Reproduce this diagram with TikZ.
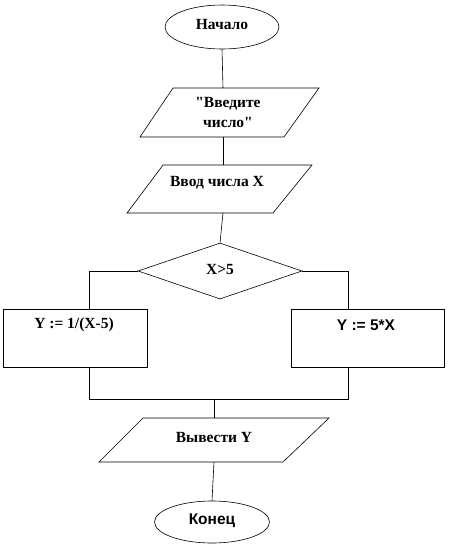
\documentclass[tikz,border=0pt]{standalone}
\usepackage{fontspec}
\setmainfont{Liberation Serif}
\newfontfamily\timesf{Liberation Serif}
\newfontfamily\arialf{Liberation Sans}
\usetikzlibrary{shapes.geometric}
\begin{document}
\begin{tikzpicture}[x=1pt,y=-1pt,
  shp/.style={draw=black,line width=0.6pt,fill=white},
  ln/.style={draw=black,line width=0.6pt},
  lbl/.style={inner sep=0pt,font=\timesf\fontsize{15.5}{20}\selectfont\bfseries,align=center},
  lbls/.style={inner sep=0pt,font=\arialf\fontsize{15.5}{18}\selectfont\bfseries,align=center}]
\useasboundingbox (0,0) rectangle (448,547);
% start
\node[shp,ellipse,minimum width=114pt,minimum height=44pt,inner sep=0pt] (start) at (222,27) {};
\node[lbl] (tstart) at (222,24) {Начало};
% input prompt parallelogram
\coordinate (p1t) at (223,88);
\coordinate (p1b) at (223,137);
\draw[shp] (173,88) -- (319,88) -- (284,137) -- (140,137) -- cycle;
\node[lbl] (tp1) at (228,112) {"Введите\\число"};
% input X
\coordinate (p2t) at (223,165);
\coordinate (p2b) at (223,213);
\draw[shp] (163,165) -- (312,165) -- (273,213) -- (127,213) -- cycle;
\node[lbl] (tp2) at (217,183) {Ввод числа X};
% decision
\node[shp,diamond,minimum width=164pt,minimum height=56pt,inner sep=0pt,aspect=2.9] (dec) at (220,271) {};
\node[lbl] (tdec) at (220,269) {X>5};
% boxes
\node[shp,rectangle,minimum width=144pt,minimum height=58pt,inner sep=0pt] (bl) at (75,338) {};
\node[lbl] (tbl) at (74,325) {Y := 1/(X-5)};
\node[shp,rectangle,minimum width=153pt,minimum height=58pt,inner sep=0pt] (br) at (367.5,338) {};
\node[lbls] (tbr) at (366,325) {Y := 5*X};
% merge
\coordinate (ml) at (89,399);
\coordinate (mr) at (348,399);
\coordinate (mm) at (214,399);
% output
\coordinate (p3t) at (214,418);
\coordinate (p3b) at (214,462);
\draw[shp] (143,418) -- (329,418) -- (283,462) -- (99,462) -- cycle;
\node[lbl] (tp3) at (214,437) {Вывести Y};
% end
\node[shp,ellipse,minimum width=115pt,minimum height=42pt,inner sep=0pt] (stop) at (212,522) {};
\node[lbls] (tstop) at (212,521) {Конец};
% connectors
\draw[ln] (start.south) -- (p1t);
\draw[ln] (p1b) -- (p2t);
\draw[ln] (p2b) -- (dec.north);
\draw[ln] (dec.west) -| (bl.north -| ml);
\draw[ln] (dec.east) -| (br.north -| mr);
\draw[ln] (bl.south -| ml) -- (ml) -- (mr) -- (br.south -| mr);
\draw[ln] (mm) -- (p3t);
\draw[ln] (p3b) -- (stop.north);
\end{tikzpicture}
\end{document}
